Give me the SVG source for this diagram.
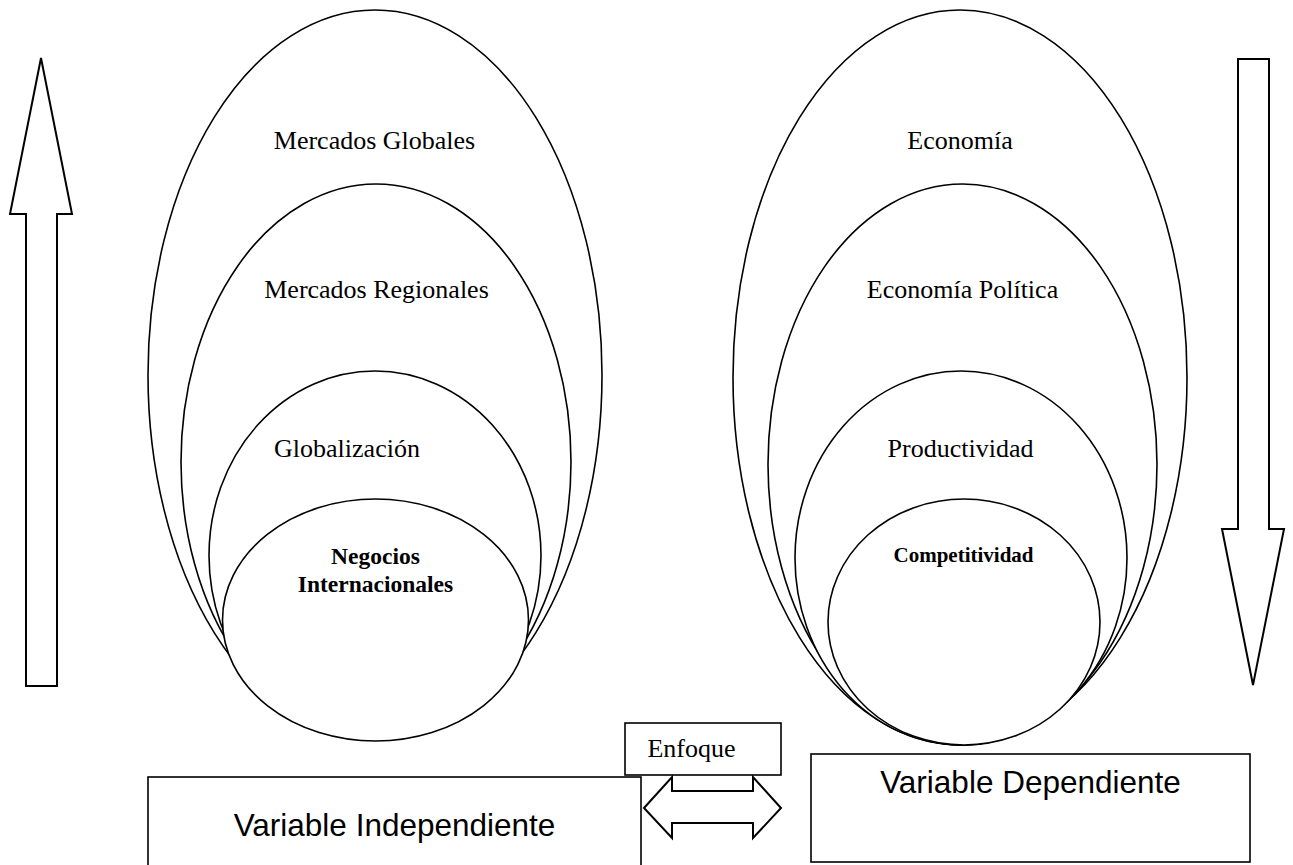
<svg xmlns="http://www.w3.org/2000/svg" width="1293" height="865" viewBox="0 0 1293 865">
<style>
.sh{fill:#fff;stroke:#000;stroke-width:1.6}
.ar{fill:#fff;stroke:#000;stroke-width:2}
.t{font-family:"Liberation Serif","Times New Roman",serif;font-size:26px;fill:#000;text-anchor:middle}
.b{font-family:"Liberation Serif","Times New Roman",serif;font-weight:bold;fill:#000;text-anchor:middle}
.s{font-family:"Liberation Sans",Arial,sans-serif;font-size:31.5px;fill:#000;text-anchor:middle}
</style>
<rect width="1293" height="865" fill="#fff"/>
<g id="mercados-globales"><ellipse class="sh" cx="375" cy="375" rx="227" ry="365"/><text class="t" x="374.5" y="149">Mercados Globales</text></g>
<g id="mercados-regionales"><ellipse class="sh" cx="376" cy="462" rx="195" ry="278"/><text class="t" x="376.5" y="298">Mercados Regionales</text></g>
<g id="globalizacion"><ellipse class="sh" cx="375" cy="555.5" rx="166" ry="184.5"/><text class="t" x="347" y="457">Globalización</text></g>
<g id="negocios"><ellipse class="sh" cx="375.5" cy="620" rx="153" ry="121"/><text class="b" font-size="23.5" x="375.5" y="564">Negocios</text><text class="b" font-size="23.5" x="375.5" y="592">Internacionales</text></g>
<g id="economia"><ellipse class="sh" cx="960" cy="377.5" rx="227" ry="367.5"/><text class="t" x="960" y="149">Economía</text></g>
<g id="economia-politica"><ellipse class="sh" cx="962.5" cy="464.5" rx="194.5" ry="280.5"/><text class="t" x="962.5" y="298">Economía Política</text></g>
<g id="productividad"><ellipse class="sh" cx="961" cy="558" rx="166" ry="187"/><text class="t" x="960.5" y="457">Productividad</text></g>
<g id="competitividad"><ellipse class="sh" cx="964" cy="622" rx="136" ry="123"/><text class="b" font-size="21" x="963.5" y="562">Competitividad</text></g>
<g id="variable-independiente"><rect class="sh" x="148" y="777" width="493" height="100"/><text class="s" x="394.5" y="836">Variable Independiente</text></g>
<g id="variable-dependiente"><rect class="sh" x="811" y="754" width="439" height="108"/><text class="s" x="1030.5" y="793">Variable Dependiente</text></g>
<g id="enfoque"><rect class="sh" x="625" y="723" width="156" height="52"/><text class="t" x="691.5" y="757">Enfoque</text></g>
<g id="connectors">
<polygon class="ar" points="41,58 72,214 57,214 57,686 26,686 26,214 10,214"/>
<polygon class="ar" points="1238,59 1269,59 1269,529 1284,529 1253,685 1222,529 1238,529"/>
<polygon class="ar" points="644,808 672,777 672,791 753,791 753,777 781,808 753,838 753,823 672,823 672,838"/>
</g>
</svg>
